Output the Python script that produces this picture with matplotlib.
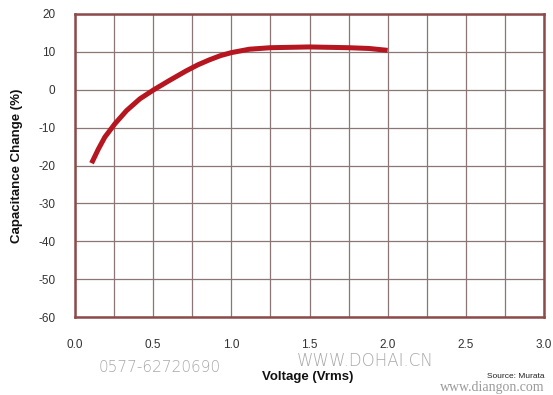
import matplotlib
matplotlib.use("Agg")
import matplotlib.pyplot as plt
import numpy as np

voltage = [0.106, 0.149, 0.191, 0.255, 0.33, 0.415, 0.504, 0.606, 0.712, 0.787,
           0.86, 0.93, 1.0, 1.115, 1.25, 1.5, 1.75, 1.88, 2.0]
cap_change = [-19.4, -15.7, -12.5, -9.0, -5.5, -2.4, 0.0, 2.5, 5.0, 6.6,
              7.9, 9.0, 9.8, 10.7, 11.1, 11.3, 11.1, 10.9, 10.4]
x_ticks = [0.0, 0.5, 1.0, 1.5, 2.0, 2.5, 3.0]
x_tick_labels = ["0.0", "0.5", "1.0", "1.5", "2.0", "2.5", "3.0"]
y_ticks = [20, 10, 0, -10, -20, -30, -40, -50, -60]

plt.rcParams['font.family'] = ['Liberation Sans', 'DejaVu Sans']
plt.rcParams['axes.unicode_minus'] = False

fig = plt.figure(figsize=(5.53, 3.95), dpi=100)
ax = fig.add_axes([75/553, 78/395, 469/553, 303/395])

ax.set_xlim(0, 3.0)
ax.set_ylim(-60, 20)
ax.set_xticks(x_ticks)
ax.set_xticklabels(x_tick_labels)
ax.set_yticks(y_ticks)
ax.set_xticks(np.arange(0, 3.01, 0.25), minor=True)
ax.grid(True, which='both', color='#8a7676', linewidth=0.9)
ax.tick_params(which='both', length=0)
ax.tick_params(axis='x', pad=16, labelsize=8.5, labelcolor='#333333')
ax.tick_params(axis='y', pad=14, labelsize=8.5, labelcolor='#333333')
for s in ax.spines.values():
    s.set_color('#8c4a4a')
    s.set_linewidth(1.8)

ax.plot(voltage, cap_change, color='#b5161f', linewidth=3.6,
        solid_capstyle='butt', solid_joinstyle='round', zorder=5)

fig.text(308/553, 1 - 377/395, "Voltage (Vrms)", ha='center', va='center', fontsize=9.5, fontweight='bold', color='#111111')
fig.text(17/553, 1 - 166/395, "Capacitance Change (%)", ha='center', va='center', rotation=90, fontsize=9.5, fontweight='bold', color='#111111')
fig.text(516/553, 1 - 376/395, "Source: Murata", ha='center', va='center', fontsize=6, color='#222222')

# watermarks
fig.text(160/553, 1 - 367/395, "0577-62720690", ha='center', va='center', fontsize=11, color='#a8a8a8', fontweight='light', family=['DejaVu Sans'])
fig.text(365/553, 1 - 361/395, "WWW.DOHAI.CN", ha='center', va='center', fontsize=12, color='#a8a8a8', family=['DejaVu Sans'], fontweight='light')
fig.text(492/553, 1 - 388/395, "www.diangon.com", ha='center', va='center', fontsize=10, color='#9a9a9a', family=['Liberation Serif'])

fig.savefig("out.png", dpi=100)
